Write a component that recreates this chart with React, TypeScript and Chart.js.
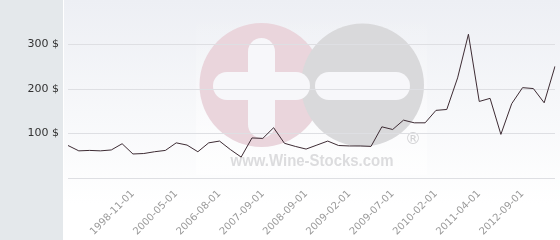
import React, { useEffect, useRef } from "react";
import { Chart, registerables } from "chart.js";

Chart.register(...registerables);

const categories: string[] = [
  "", "", "", "", "", "", "1998-11-01", "", "", "",
  "2000-05-01", "", "", "", "2006-08-01", "", "", "", "2007-09-01", "",
  "", "", "2008-09-01", "", "", "", "2009-02-01", "", "", "",
  "2009-07-01", "", "", "", "2010-02-01", "", "", "", "2011-04-01", "",
  "", "", "2012-09-01", "", "", "",
];

const prices: number[] = [
  73, 61, 62, 61, 63, 77, 54, 55, 59, 62,
  79, 74, 59, 79, 83, 64, 47, 90, 89, 113,
  78, 71, 65, 74, 83, 73, 72, 72, 71, 115,
  109, 130, 124, 124, 152, 154, 225, 323, 172, 179,
  98, 167, 203, 201, 169, 251,
];

const yTickValues: number[] = [100, 200, 300];
const currency = "$";

const backgroundPlugin = {
  id: "bgWatermark",
  beforeDraw(chart: any) {
    const ctx = chart.ctx as CanvasRenderingContext2D;
    const W = chart.width;
    const H = chart.height;
    ctx.save();
    ctx.fillStyle = "#e4e8eb";
    ctx.fillRect(0, 0, 63, H);
    ctx.fillStyle = "#ffffff";
    ctx.fillRect(63, 0, 1, H);
    const g = ctx.createLinearGradient(0, 0, 0, H);
    g.addColorStop(0, "#edeff4");
    g.addColorStop(0.85, "#ffffff");
    g.addColorStop(1, "#ffffff");
    ctx.fillStyle = g;
    ctx.fillRect(64, 0, W - 64, H);
    const bd = ctx.createLinearGradient(0, 14, 0, 175);
    bd.addColorStop(0, "rgba(255,255,255,0)");
    bd.addColorStop(1, "rgba(255,255,255,0.6)");
    ctx.fillStyle = bd;
    ctx.fillRect(196, 14, 231, 161);
    ctx.fillStyle = "#ead5dc";
    ctx.beginPath();
    ctx.arc(261.5, 85, 62, 0, Math.PI * 2);
    ctx.fill();
    ctx.fillStyle = "#d9d9db";
    ctx.beginPath();
    ctx.arc(362.5, 85, 61.5, 0, Math.PI * 2);
    ctx.fill();
    const pill = (x: number, y: number, w: number, h: number) => {
      const r = Math.min(w, h) / 2;
      ctx.beginPath();
      if (w >= h) {
        ctx.moveTo(x + r, y);
        ctx.lineTo(x + w - r, y);
        ctx.arc(x + w - r, y + r, r, -Math.PI / 2, Math.PI / 2);
        ctx.lineTo(x + r, y + h);
        ctx.arc(x + r, y + r, r, Math.PI / 2, (3 * Math.PI) / 2);
      } else {
        ctx.moveTo(x, y + r);
        ctx.arc(x + r, y + r, r, Math.PI, 0);
        ctx.lineTo(x + w, y + h - r);
        ctx.arc(x + r, y + h - r, r, 0, Math.PI);
      }
      ctx.closePath();
      ctx.fill();
    };
    ctx.fillStyle = "#f7f7fa";
    pill(248, 38, 27, 100);
    pill(213, 72, 97, 28);
    pill(315, 72, 95, 28);
    ctx.fillStyle = "#dcdcde";
    ctx.font = "bold 16px 'Liberation Sans', Arial, sans-serif";
    const txt = "www.Wine-Stocks.com";
    const w = ctx.measureText(txt).width;
    ctx.save();
    ctx.translate(312, 166);
    ctx.scale(163 / w, 1);
    ctx.textAlign = "center";
    ctx.textBaseline = "alphabetic";
    ctx.fillText(txt, 0, 0);
    ctx.restore();
    ctx.font = "16px 'DejaVu Sans', sans-serif";
    ctx.fillStyle = "#d2d2d4";
    ctx.textAlign = "center";
    ctx.textBaseline = "middle";
    ctx.fillText("®", 413, 140);
    ctx.restore();
  },
};

export default function App() {
  const ref = useRef<HTMLCanvasElement | null>(null);
  useEffect(() => {
    if (!ref.current) return;
    const chart = new Chart(ref.current, {
      type: "line",
      data: {
        labels: categories,
        datasets: [
          {
            data: prices,
            borderColor: "#3d2b33",
            borderWidth: 1,
            pointRadius: 0,
            tension: 0,
            fill: false,
          },
        ],
      },
      options: {
        animation: false,
        responsive: false,
        devicePixelRatio: 1,
        layout: { padding: { top: 0, right: 5, left: 0, bottom: 0 } },
        plugins: { legend: { display: false }, tooltip: { enabled: false } },
        scales: {
          x: {
            grid: { display: false },
            border: { display: false },
            afterFit: (s: any) => {
              s.height = 62;
              s.paddingLeft = 0;
              s.paddingRight = 0;
            },
            ticks: {
              autoSkip: false,
              minRotation: 45,
              maxRotation: 45,
              padding: 2,
              color: "#9a9a9a",
              font: { family: "'DejaVu Sans', sans-serif", size: 10 },
            },
          },
          y: {
            min: 0,
            max: 400,
            border: { display: false },
            afterFit: (s: any) => {
              s.width = 68;
              s.paddingTop = 0;
              s.paddingBottom = 0;
            },
            grid: {
              drawTicks: false,
              color: (c: any) => (c.tick && c.tick.value === 400 ? "rgba(0,0,0,0)" : "#dedfe3"),
            },
            ticks: {
              stepSize: 100,
              padding: 9,
              color: "#333333",
              font: { family: "'DejaVu Sans', sans-serif", size: 11 },
              callback: (v: any) => (yTickValues.includes(Number(v)) ? `${v} ${currency}` : ""),
            },
          },
        },
      },
      plugins: [backgroundPlugin],
    });
    return () => chart.destroy();
  }, []);
  return (
    <div style={{ position: "fixed", left: 0, top: 0, width: 560, height: 240 }}>
      <canvas ref={ref} width={560} height={240} />
    </div>
  );
}
